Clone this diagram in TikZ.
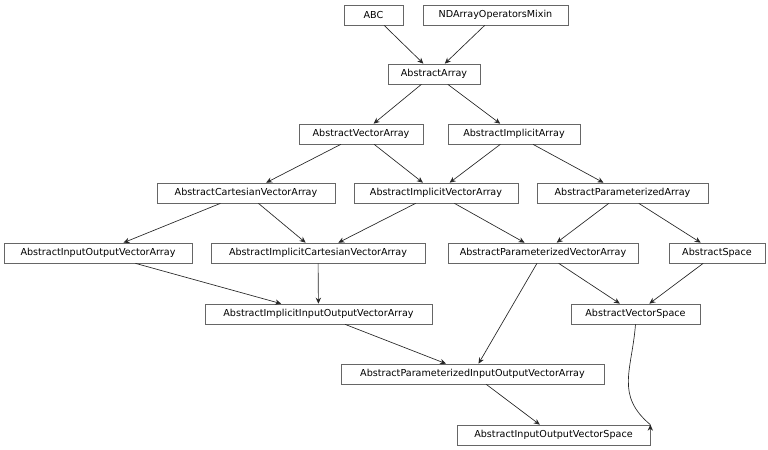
\documentclass[tikz,border=0pt]{standalone}
\usepackage{fontspec}
\setmainfont{DejaVu Sans}
\usetikzlibrary{arrows.meta}
\begin{document}
\begin{tikzpicture}[x=0.75pt,y=-0.75pt,
  box/.style={draw=black!60,line width=0.5pt,inner sep=0pt,minimum height=20*0.75pt,font=\fontsize{7.2}{8.5}\selectfont},
  edge/.style={draw=black!85,line width=0.5pt,-{Stealth[length=4.5pt,width=4pt]}}]
\useasboundingbox (0,0) rectangle (768,450);
\node[box,minimum width=59*0.75pt] (abc) at (373.5,15) {ABC};
\node[box,minimum width=145*0.75pt] (nd) at (495.5,15) {NDArrayOperatorsMixin};
\node[box,minimum width=92*0.75pt] (aa) at (434,74) {AbstractArray};
\node[box,minimum width=124*0.75pt] (ava) at (361,134) {AbstractVectorArray};
\node[box,minimum width=132*0.75pt] (aia) at (514,134) {AbstractImplicitArray};
\node[box,minimum width=178*0.75pt] (acva) at (246,193) {AbstractCartesianVectorArray};
\node[box,minimum width=164*0.75pt] (aiva) at (436,193) {AbstractImplicitVectorArray};
\node[box,minimum width=171*0.75pt] (apa) at (622.5,193) {AbstractParameterizedArray};
\node[box,minimum width=188*0.75pt] (aiova) at (98,253) {AbstractInputOutputVectorArray};
\node[box,minimum width=214*0.75pt] (aicva) at (318,253) {AbstractImplicitCartesianVectorArray};
\node[box,minimum width=190*0.75pt] (apva) at (543,253) {AbstractParameterizedVectorArray};
\node[box,minimum width=96*0.75pt] (as) at (717,253) {AbstractSpace};
\node[box,minimum width=227*0.75pt] (aiiova) at (318.5,314) {AbstractImplicitInputOutputVectorArray};
\node[box,minimum width=129*0.75pt] (avs) at (635.5,314) {AbstractVectorSpace};
\node[box,minimum width=263*0.75pt] (apiova) at (472.5,374) {AbstractParameterizedInputOutputVectorArray};
\node[box,minimum width=193*0.75pt] (aiovs) at (553.5,435) {AbstractInputOutputVectorSpace};
\draw[edge] (abc) -- (aa);
\draw[edge] (nd) -- (aa);
\draw[edge] (aa) -- (ava);
\draw[edge] (aa) -- (aia);
\draw[edge] (ava) -- (acva);
\draw[edge] (ava) -- (aiva);
\draw[edge] (aia) -- (aiva);
\draw[edge] (aia) -- (apa);
\draw[edge] (acva) -- (aiova);
\draw[edge] (acva) -- (aicva);
\draw[edge] (aiva) -- (aicva);
\draw[edge] (aiva) -- (apva);
\draw[edge] (apa) -- (apva);
\draw[edge] (apa) -- (as);
\draw[edge] (aiova) -- (aiiova);
\draw[edge] (aicva) -- (aiiova);
\draw[edge] (apva) -- (avs);
\draw[edge] (as) -- (avs);
\draw[edge] (apva) -- (apiova);
\draw[edge] (aiiova) -- (apiova);
\draw[edge] (apiova) -- (aiovs);
\draw[edge] (avs.south) .. controls (632,370) and (615,395) .. (aiovs.north east|-aiovs.north) ++(0,0);
\end{tikzpicture}
\end{document}
